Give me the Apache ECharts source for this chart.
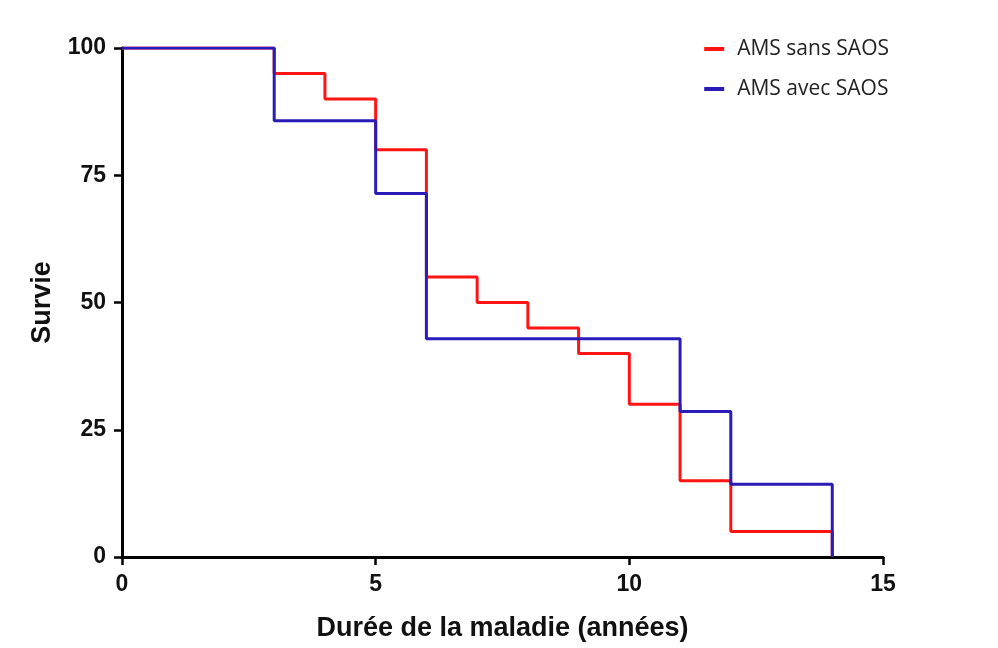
<!DOCTYPE html>
<html><head><meta charset="utf-8">
<script src="https://cdn.jsdelivr.net/npm/echarts@6/dist/echarts.min.js"></script>
<style>html,body{margin:0;padding:0;background:#fff}#c{width:998px;height:648px}</style>
</head><body><div id="c"></div>
<script>
const seriesNames = ['AMS sans SAOS', 'AMS avec SAOS'];
const sansTimes = [0, 3, 4, 5, 6, 7, 8, 9, 10, 11, 12, 14];
const sansSurv  = [100, 95, 90, 80, 55, 50, 45, 40, 30, 15, 5, 0];
const avecTimes = [0, 3, 5, 6, 11, 12, 14];
const avecSurv  = [100, 85.7, 71.4, 42.9, 28.6, 14.3, 0];
const xTicks = [0, 5, 10, 15];
const yTicks = [0, 25, 50, 75, 100];

const chart = echarts.init(document.getElementById('c'));
const axisLbl = {color:'#111', fontFamily:'Liberation Sans, Arial', fontWeight:'bold', fontSize:23};
const nameStyle = {color:'#111', fontFamily:'Liberation Sans, Arial', fontWeight:'bold', fontSize:27};
chart.setOption({
  animation:false,
  grid:{left:122, right:115, top:48, bottom:91},
  legend:{
    right:104, top:33, orient:'vertical', itemGap:18, itemWidth:20, itemHeight:4,
    textStyle:{fontFamily:'Open Sans, Noto Sans', fontSize:21, color:'#222', lineHeight:22, padding:[0,0,0,8]},
    data:seriesNames.map(n=>({name:n, icon:'rect'}))
  },
  xAxis:{
    type:'value', min:xTicks[0], max:xTicks[xTicks.length-1], interval:5,
    name:'Durée de la maladie (années)', nameLocation:'middle', nameGap:58,
    nameTextStyle:nameStyle,
    axisLine:{lineStyle:{color:'#000', width:3}},
    axisTick:{show:true, length:8, lineStyle:{color:'#000', width:2.5}},
    axisLabel:Object.assign({margin:16}, axisLbl),
    splitLine:{show:false}
  },
  yAxis:{
    type:'value', min:yTicks[0], max:yTicks[yTicks.length-1], interval:25,
    name:'Survie', nameLocation:'middle', nameGap:66, nameRotate:90,
    nameTextStyle:nameStyle,
    axisLine:{show:true, lineStyle:{color:'#000', width:3}},
    axisTick:{show:true, length:8, lineStyle:{color:'#000', width:2.5}},
    axisLabel:Object.assign({margin:16}, axisLbl),
    splitLine:{show:false}
  },
  series:[
    {name:seriesNames[0], type:'line', step:'end', showSymbol:false, z:2,
     color:'#ff1414', lineStyle:{width:3, color:'#ff1414'},
     data:sansTimes.map((t,i)=>[t, sansSurv[i]])},
    {name:seriesNames[1], type:'line', step:'end', showSymbol:false, z:3,
     color:'#2a1cb8', lineStyle:{width:3, color:'#2a1cb8'},
     data:avecTimes.map((t,i)=>[t, avecSurv[i]])}
  ]
});
</script></body></html>
